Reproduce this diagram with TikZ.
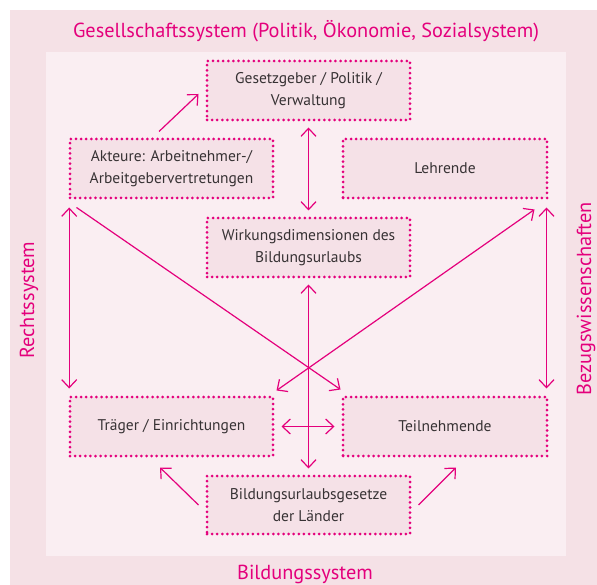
\documentclass[tikz,border=0pt]{standalone}
\usepackage{fontspec}
\setmainfont{PT Sans}
\usetikzlibrary{arrows.meta,calc}
\definecolor{magentaC}{RGB}{228,0,124}
\definecolor{bandC}{RGB}{245,225,230}
\definecolor{innerC}{RGB}{250,238,242}
\definecolor{boxC}{RGB}{245,225,231}
\definecolor{textC}{RGB}{55,50,52}
\tikzset{
  box/.style={draw=magentaC, fill=boxC, line width=3pt, line cap=round,
    dash pattern=on 0pt off 5.1pt, minimum width=203pt, minimum height=59pt,
    inner sep=0pt, align=center, text=textC,
    font=\fontsize{15.5}{22}\selectfont},
  conn/.style={draw=magentaC, line width=1.2pt,
    arrows={-Straight Barb[length=8pt,width=15pt,line width=1.2pt]}},
  dconn/.style={draw=magentaC, line width=1.2pt,
    arrows={Straight Barb[length=8pt,width=15pt,line width=1.2pt]-Straight Barb[length=8pt,width=15pt,line width=1.2pt]}},
  syslabel/.style={text=magentaC, inner sep=0pt, font=\fontsize{20.3}{22}\selectfont}
}
\begin{document}
\begin{tikzpicture}[x=1pt,y=-1pt]
\useasboundingbox (0,0) rectangle (597,585);
\fill[bandC] (10,10) rectangle (597,585);
\fill[innerC] (46,52) rectangle (566,556);

\node[syslabel] (tgs) at (306,31) {Gesellschaftssystem (Politik, Ökonomie, Sozialsystem)};
\node[syslabel] (tbs) at (305,574) {Bildungssystem};
\node[syslabel, rotate=90] (trs) at (29,300) {Rechtssystem};
\node[syslabel, rotate=90] (tbz) at (586,299) {Bezugswissenschaften};

\node[box] (gesetz) at (308.5,90.5) {Gesetzgeber / Politik /\\Verwaltung};
\node[box] (akteure) at (171.5,168.5) {Akteure: Arbeitnehmer-/\\Arbeitgebervertretungen};
\node[box, minimum width=204pt] (lehrende) at (445,168.5) {Lehrende};
\node[box] (wirkung) at (308.5,247.5) {Wirkungsdimensionen des\\Bildungsurlaubs};
\node[box] (traeger) at (171.5,426.5) {Träger / Einrichtungen};
\node[box, minimum width=204pt] (teiln) at (445,426.5) {Teilnehmende};
\node[box, minimum height=58pt] (gesetze) at (308.5,505) {Bildungsurlaubsgesetze\\der Länder};

% connectors
\draw[conn] ($(akteure.north)+(-12.5,-6)$) -- ($(gesetz.west)+(-7,3.5)$);
\draw[dconn, shorten <=6pt, shorten >=6pt] (gesetz.south) -- (wirkung.north);
\draw[dconn, shorten <=6pt, shorten >=6pt] (wirkung.south) -- (gesetze.north);
\draw[dconn, shorten <=7pt, shorten >=7pt] (traeger.east) -- (teiln.west);
\draw[dconn, shorten <=8pt, shorten >=7pt] ($(akteure.south west)+(0.7,0)$) -- ($(traeger.north west)+(0.7,0)$);
\draw[dconn, shorten <=8pt, shorten >=7pt] ($(lehrende.south east)+(-2,0)$) -- ($(teiln.north east)+(-2,0)$);
\draw[conn] ($(akteure.south west)+(8,8)$) -- ($(teiln.north west)+(-1,-6)$);
\draw[dconn] ($(traeger.north east)+(2,-5)$) -- ($(lehrende.south east)+(-14,10)$);
\draw[conn] ($(gesetze.west)+(-7,0)$) -- ($(traeger.south)+(-11.5,10)$);
\draw[conn] ($(gesetze.east)+(7,0)$) -- ($(teiln.south)+(11,10)$);
\end{tikzpicture}
\end{document}
